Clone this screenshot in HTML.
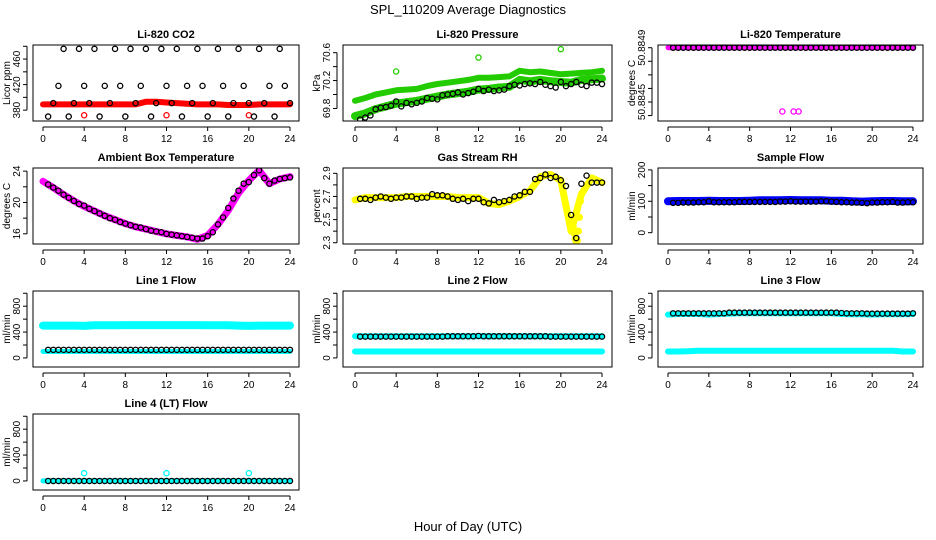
<!DOCTYPE html>
<html><head><meta charset="utf-8"><style>
html,body{margin:0;padding:0;background:#fff}
svg{display:block;font-family:"Liberation Sans",sans-serif}
</style></head><body>
<svg id="c" width="936" height="540" xmlns="http://www.w3.org/2000/svg">
<text x="468" y="14" text-anchor="middle" font-size="13">SPL_110209  Average Diagnostics</text>
<text x="468" y="531" text-anchor="middle" font-size="13">Hour of Day (UTC)</text>
</svg>
<script>
// ---- data ----
const hoursBlack = [0.5,1,1.5,2,2.5,3,3.5,4,4.5,5,5.5,6,6.5,7,7.5,8,8.5,9,9.5,10,10.5,11,11.5,12,12.5,13,13.5,14,14.5,15,15.5,16,16.5,17,17.5,18,18.5,19,19.5,20,20.5,21,21.5,22,22.5,23,23.5,24];
const hoursBand = [0,1,2,3,4,5,6,7,8,9,10,11,12,13,14,15,16,17,18,19,20,21,22,23,24];
const xTicks = [0,4,8,12,16,20,24];

const co2Band = [389,389,389,389,389,389,389,389,389,389,393,393,392,391,390,389,389,389,388,388,388,389,389,389,389];
const co2Black = [370,391,418,476,370,391,476,418,391,476,370,418,391,476,418,370,476,391,418,476,370,391,476,418,391,476,370,418,391,476,418,370,391,476,418,370,391,476,418,391,370,476,391,418,370,476,418,391];
const presUpper = [69.91,69.95,70.0,70.03,70.06,70.07,70.08,70.12,70.15,70.17,70.19,70.21,70.24,70.24,70.25,70.26,70.34,70.32,70.33,70.31,70.29,70.3,70.31,70.32,70.34];
const presLower = [69.69,69.73,69.79,69.83,69.87,69.89,69.91,69.94,69.97,70.0,70.02,70.04,70.07,70.08,70.1,70.11,70.21,70.19,70.21,70.19,70.18,70.17,70.21,70.22,70.23];
const presBlack = [69.64,69.67,69.7,69.79,69.81,69.82,69.84,69.9,69.83,69.88,69.86,69.88,69.9,69.95,69.94,69.93,69.99,70.0,70.01,70.03,70.0,70.02,70.04,70.08,70.05,70.07,70.05,70.06,70.07,70.12,70.14,70.13,70.15,70.16,70.15,70.18,70.14,70.12,70.1,70.18,70.12,70.15,70.18,70.14,70.12,70.17,70.17,70.15];
const tempBand = [50.8849,50.8849,50.8849,50.8849,50.8849,50.8849,50.8849,50.8849,50.8849,50.8849,50.8849,50.8849,50.8849,50.8849,50.8849,50.8849,50.8849,50.8849,50.8849,50.8849,50.8849,50.8849,50.8849,50.8849,50.8849];
const tempOutlierHours = [11.2,12.3,12.8];
const tempOutlierVals = [50.88443,50.88443,50.88443];
const ambBand = [22.7,21.9,21.0,20.2,19.5,18.9,18.3,17.8,17.3,16.9,16.6,16.3,16.0,15.8,15.6,15.3,15.8,17.2,19.0,21.2,22.8,24.1,22.4,23.0,23.3];
const ambBlack = [22.3,21.9,21.5,21.0,20.6,20.2,19.8,19.6,19.2,18.9,18.6,18.3,18.0,17.8,17.5,17.3,17.1,16.9,16.8,16.6,16.4,16.3,16.2,16.0,15.9,15.8,15.7,15.6,15.5,15.4,15.4,15.7,16.2,17.2,18.1,19.3,20.5,21.5,22.4,22.6,23.5,24.1,23.1,22.4,22.8,23.0,23.1,23.2];
const rhBand = [2.67,2.69,2.69,2.69,2.69,2.7,2.7,2.7,2.7,2.7,2.69,2.69,2.69,2.64,2.63,2.66,2.7,2.75,2.87,2.89,2.84,2.4,2.72,2.86,2.82];
const rhBlack = [2.68,2.68,2.67,2.69,2.7,2.69,2.68,2.69,2.69,2.7,2.7,2.68,2.69,2.69,2.72,2.71,2.71,2.7,2.68,2.67,2.68,2.66,2.68,2.68,2.65,2.64,2.67,2.65,2.66,2.67,2.7,2.71,2.74,2.74,2.85,2.86,2.89,2.86,2.87,2.84,2.79,2.54,2.34,2.81,2.88,2.82,2.82,2.82];
const rhDipHours = [21.1,21.2,21.3,21.4,21.5,21.6,21.7,21.8,21.9];
const rhDipVals = [2.5,2.44,2.38,2.33,2.31,2.32,2.4,2.52,2.66];
const sampBand = [100,101,101,101,102,101,101,101,102,103,103,103,104,103,103,103,102,102,100,99,100,101,101,100,100];
const sampBlack = [95,95,96,96,96,97,97,100,97,97,97,97,97,98,98,98,98,98,98,98,98,99,99,100,99,99,99,99,99,100,100,99,98,97,97,96,96,95,94,96,96,97,97,98,96,96,97,97];
const l1Upper = [500,500,500,500,495,505,505,505,508,508,508,508,508,508,508,508,505,505,505,500,495,500,500,500,500];
const l1Lower = [100,100,100,100,100,100,100,100,100,100,100,100,100,100,100,100,100,100,100,100,100,100,100,100,100];
const l1Black = Array(48).fill(125);
const l2Upper = [335,335,335,335,335,335,335,335,335,335,335,335,335,335,335,335,335,335,335,335,335,335,335,335,335];
const l2Lower = [100,100,100,100,100,100,100,100,100,100,100,100,100,100,100,100,100,100,100,100,100,100,100,100,100];
const l2Black = [330,330,330,330,330,330,330,330,330,330,330,330,330,330,330,330,330,335,335,335,335,335,335,340,335,335,335,335,335,335,335,335,335,335,335,335,335,330,330,330,330,330,330,330,330,330,330,330];
const l3Upper = [670,680,680,680,670,680,685,690,690,690,690,690,690,690,690,690,690,680,675,675,670,675,675,675,680];
const l3Lower = [100,100,105,110,110,110,110,110,110,110,110,110,110,110,110,110,110,110,110,110,110,110,110,100,100];
const l3Black = [690,690,690,690,690,690,690,690,690,690,690,700,700,700,700,700,700,700,700,700,700,700,700,700,700,700,700,700,700,700,700,700,700,695,690,690,690,690,685,685,685,685,685,685,685,685,685,690];
const l4Band = Array(25).fill(0);
const l4Black = Array(48).fill(0);
const l4OutlierHours = [4,12,20];
const l4OutlierVals = [120,120,120];

// ---- layout ----
const NS = "http://www.w3.org/2000/svg";
const svg = document.getElementById('c');
const cols = [{l:33,r:299,x0:43,x24:290},{l:343,r:612,x0:355,x24:602},{l:658,r:923,x0:668,x24:913}];
const rows = [{t:45,b:121},{t:168,b:244},{t:291,b:367},{t:414,b:490}];
function mk(tag, attrs, parent){const e=document.createElementNS(NS,tag);for(const k in attrs)e.setAttribute(k,attrs[k]);(parent||svg).appendChild(e);return e;}

function panel(o){
  const c=cols[o.col], r=rows[o.row];
  const g=mk('g',{});
  
  
  const xs=h=>c.x0+(h/24)*(c.x24-c.x0);
  const ys=v=>r.b-(v-o.ymin)/(o.ymax-o.ymin)*(r.b-r.t);
  const clipId='clip'+o.name;
  const cp=mk('clipPath',{id:clipId},g);mk('rect',{x:c.l,y:r.t,width:c.r-c.l,height:r.b-r.t},cp);
  const plot=mk('g',{'clip-path':'url(#'+clipId+')'},g);
  (o.bands||[]).forEach(b=>{
    const pts=hoursBand.map((h,i)=>xs(h).toFixed(1)+','+ys(b.vals[i]).toFixed(1)).join(' ');
    const pl=mk('polyline',{points:pts,fill:'none',stroke:o.color,'stroke-width':b.w||6,'stroke-linejoin':'round','stroke-linecap':'round'},plot);
    
    
  });
  (o.outliers||[]).forEach(ou=>{
    ou.h.forEach((h,i)=>{
      const cc=mk('circle',{cx:xs(h),cy:ys(ou.v[i]),r:ou.r||2.6,fill:ou.fill||'none',stroke:o.color,'stroke-width':1.3},plot);
      
      
    });
  });
  if(o.black){
    hoursBlack.forEach((h,i)=>{
      const cc=mk('circle',{cx:xs(h),cy:ys(o.black[i]),r:2.6,fill:'none',stroke:'#000','stroke-width':1.3},plot);
      
      
    });
  }
  const bx=mk('rect',{x:c.l,y:r.t,width:c.r-c.l,height:r.b-r.t,fill:'none',stroke:'#000','stroke-width':1},g);
  
  
  const ya=r.b+6;
  mk('line',{x1:xs(0),x2:xs(24),y1:ya,y2:ya,stroke:'#000'},g);
  xTicks.forEach(t=>{
    mk('line',{x1:xs(t),x2:xs(t),y1:ya,y2:ya+4,stroke:'#000'},g);
    const tx=mk('text',{x:xs(t),y:ya+15,'text-anchor':'middle','font-size':10},g);
    tx.textContent=t;
    
    
  });
  const xa=c.l-6;
  mk('line',{x1:xa,x2:xa,y1:ys(o.yticks[0]),y2:ys(o.yticks[o.yticks.length-1]),stroke:'#000'},g);
  o.yticks.forEach(t=>mk('line',{x1:xa-4,x2:xa,y1:ys(t),y2:ys(t),stroke:'#000'},g));
  o.ylabels.forEach((t,i)=>{
    const y=ys(o.ylabelVals[i]);
    const tx=mk('text',{x:xa-7,y:y,'text-anchor':'middle','font-size':10,transform:`rotate(-90 ${xa-7} ${y})`},g);
    tx.textContent=t;
    
    
  });
  const ym=(r.t+r.b)/2, yx=c.l-23;
  const yt=mk('text',{x:yx,y:ym,'text-anchor':'middle','font-size':10,transform:`rotate(-90 ${yx} ${ym})`},g);
  yt.textContent=o.ytitle;
  
  
  const tt=mk('text',{x:(c.l+c.r)/2,y:r.t-7,'text-anchor':'middle','font-size':11,'font-weight':'bold'},g);
  tt.textContent=o.title;
  
  
}

const flowTicks=[0,200,400,600,800,1000];
panel({name:'co2-panel',col:0,row:0,title:'Li-820 CO2',ytitle:'Licor ppm',ymin:363,ymax:482,yticks:[380,400,420,440,460,480],ylabels:['380','420','460'],ylabelVals:[380,420,460],color:'#ff0000',bands:[{vals:co2Band,w:6}],black:co2Black,outliers:[{h:[4,12,20],v:[372,372,372]}]});
panel({name:'pressure-panel',col:1,row:0,title:'Li-820 Pressure',ytitle:'kPa',ymin:69.62,ymax:70.71,yticks:[69.8,70.0,70.2,70.4,70.6],ylabels:['69.8','70.2','70.6'],ylabelVals:[69.8,70.2,70.6],color:'#22cc00',bands:[{vals:presUpper,w:6},{vals:presLower,w:8}],black:presBlack,outliers:[{h:[4,12,20],v:[70.33,70.53,70.65]}]});
panel({name:'temperature-panel',col:2,row:0,title:'Li-820 Temperature',ytitle:'degrees C',ymin:50.88436,ymax:50.88492,yticks:[50.8849,50.8848,50.8847,50.8846,50.8845,50.8844],ylabels:['50.8849','50.8845'],ylabelVals:[50.8849,50.8845],color:'#ff00ff',bands:[{vals:tempBand,w:5}],black:tempBand.concat(tempBand).slice(0,48),outliers:[{h:tempOutlierHours,v:tempOutlierVals}]});
panel({name:'ambient-temp-panel',col:0,row:1,title:'Ambient Box Temperature',ytitle:'degrees C',ymin:14.7,ymax:24.4,yticks:[16,18,20,22,24],ylabels:['16','20','24'],ylabelVals:[16,20,24],color:'#ff00ff',bands:[{vals:ambBand,w:7}],black:ambBlack});
panel({name:'rh-panel',col:1,row:1,title:'Gas Stream RH',ytitle:'percent',ymin:2.289,ymax:2.946,yticks:[2.3,2.4,2.5,2.6,2.7,2.8,2.9],ylabels:['2.3','2.5','2.7','2.9'],ylabelVals:[2.3,2.5,2.7,2.9],color:'#ffff00',bands:[{vals:rhBand,w:7}],black:rhBlack,outliers:[{h:rhDipHours,v:rhDipVals,r:3,fill:'#ffff00'}]});
panel({name:'sample-flow-panel',col:2,row:1,title:'Sample Flow',ytitle:'ml/min',ymin:-36,ymax:206,yticks:[0,50,100,150,200],ylabels:['0','100','200'],ylabelVals:[0,100,200],color:'#0000ff',bands:[{vals:sampBand,w:8}],black:sampBlack});
panel({name:'line1-flow-panel',col:0,row:2,title:'Line 1 Flow',ytitle:'ml/min',ymin:-140,ymax:1035,yticks:flowTicks,ylabels:['0','400','800'],ylabelVals:[0,400,800],color:'#00ffff',bands:[{vals:l1Upper,w:8},{vals:l1Lower,w:5}],black:l1Black});
panel({name:'line2-flow-panel',col:1,row:2,title:'Line 2 Flow',ytitle:'ml/min',ymin:-140,ymax:1035,yticks:flowTicks,ylabels:['0','400','800'],ylabelVals:[0,400,800],color:'#00ffff',bands:[{vals:l2Upper,w:6},{vals:l2Lower,w:6}],black:l2Black});
panel({name:'line3-flow-panel',col:2,row:2,title:'Line 3 Flow',ytitle:'ml/min',ymin:-140,ymax:1035,yticks:flowTicks,ylabels:['0','400','800'],ylabelVals:[0,400,800],color:'#00ffff',bands:[{vals:l3Upper,w:6},{vals:l3Lower,w:6}],black:l3Black});
panel({name:'line4-flow-panel',col:0,row:3,title:'Line 4 (LT) Flow',ytitle:'ml/min',ymin:-140,ymax:1035,yticks:flowTicks,ylabels:['0','400','800'],ylabelVals:[0,400,800],color:'#00ffff',bands:[{vals:l4Band,w:5}],black:l4Black,outliers:[{h:l4OutlierHours,v:l4OutlierVals}]});
</script>
</body></html>
